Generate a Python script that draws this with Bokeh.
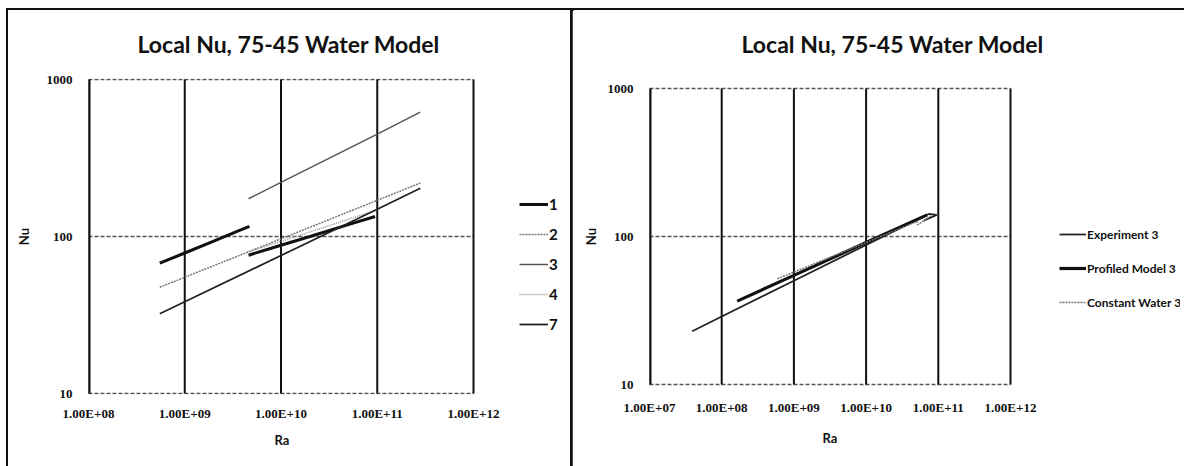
import math
from bokeh.plotting import figure
from bokeh.models import FixedTicker, Legend, LegendItem, Title
from bokeh.layouts import row
from bokeh.embed import file_html
from bokeh.resources import INLINE

nan = float("nan")

TITLE = "Local Nu, 75-45 Water Model"
X_LABEL = "Ra"
Y_LABEL = "Nu"

# ---------- tick labels ----------
left_x_ticks = [1e8, 1e9, 1e10, 1e11, 1e12]
left_x_labels = ["1.00E+08", "1.00E+09", "1.00E+10", "1.00E+11", "1.00E+12"]
right_x_ticks = [1e7, 1e8, 1e9, 1e10, 1e11, 1e12]
right_x_labels = ["1.00E+07", "1.00E+08", "1.00E+09", "1.00E+10", "1.00E+11", "1.00E+12"]
y_ticks = [10, 100, 1000]
y_labels = ["10", "100", "1000"]

# ---------- left panel series ----------
s1_ra = [5.5e8, 1.0e9, 2.0e9, 3.5e9, 4.7e9, nan, 4.6e9, 1.0e10, 2.0e10, 5.0e10, 9.5e10]
s1_nu = [67.6, 78.5, 93.5, 107.7, 116, nan, 76, 88, 100, 119, 134]
s2_ra = [5.5e8, 1.0e9, 1.0e10, 1.0e11, 2.8e11]
s2_nu = [47.5, 55, 96.6, 170, 219]
s3_ra = [4.6e9, 1.0e10, 3.0e10, 1.0e11, 2.8e11]
s3_nu = [174, 221, 310, 449, 620]
s4_ra = [4.6e9, 1.0e10, 3.0e10, 1.0e11]
s4_nu = [80, 93, 116, 148]
s7_ra = [5.5e8, 1.0e9, 1.0e10, 1.0e11, 2.8e11]
s7_nu = [32.2, 38.4, 75.7, 149, 203]
left_names = ["1", "2", "3", "4", "7"]

# ---------- right panel series ----------
exp_ra = [3.9e7, 1.0e8, 1.0e9, 1.0e10, 5.0e10, 7.4e10, 9.5e10, 6.3e10]
exp_nu = [22.9, 28.8, 50.2, 87.7, 129, 142, 140, 128]
prof_ra = [1.64e8, 1.0e9, 1.0e10, 7.0e10]
prof_nu = [36.6, 54.6, 91, 140]
const_ra = [5.9e8, 1.0e9, 1.0e10, 5.0e10, 5.2e10, 8.0e10]
const_nu = [51.8, 57.5, 91, 126, 120, 138]
right_names = ["Experiment 3", "Profiled Model 3", "Constant Water 3"]

TITLE_FONT = "Lato"
TICK_FONT = "Liberation Serif"


def log_range(t0, t1, plot_px, extra_lo_px, extra_hi_px):
    """Range whose ticks t0..t1 span plot_px pixels, with extra pixels of room around."""
    ppd = plot_px / (math.log10(t1) - math.log10(t0))
    return (10 ** (math.log10(t0) - extra_lo_px / ppd), 10 ** (math.log10(t1) + extra_hi_px / ppd))


def base_fig(fw, fh, xr, yr, ml, mr, mt, mb, xticks, xlabels, margin):
    p = figure(frame_width=fw, frame_height=fh, x_axis_type="log", y_axis_type="log",
               x_range=xr, y_range=yr, output_backend="svg", toolbar_location=None,
               min_border_left=ml, min_border_right=mr, min_border_top=mt, min_border_bottom=mb,
               margin=margin)
    p.outline_line_color = None
    p.background_fill_color = "white"
    p.border_fill_color = "white"
    p.grid.visible = False
    p.title.text = TITLE
    p.title.align = "left"
    p.title.vertical_align = "top"
    p.title.text_font = TITLE_FONT
    p.title.text_font_size = "23px"
    p.title.text_font_style = "bold"
    p.title.text_color = "#111111"
    for ax in (p.xaxis[0], p.yaxis[0]):
        ax.axis_line_color = None
        ax.major_tick_line_color = None
        ax.minor_tick_line_color = None
        ax.major_tick_out = 0
        ax.major_tick_in = 0
        ax.minor_tick_out = 0
        ax.major_label_text_font = TICK_FONT
        ax.major_label_text_font_style = "bold"
        ax.major_label_text_font_size = "13px"
        ax.major_label_text_color = "#111111"
        ax.axis_label_text_font = TITLE_FONT
        ax.axis_label_text_font_style = "bold"
        ax.axis_label_text_font_size = "13px"
        ax.axis_label_text_color = "#111111"
    p.xaxis[0].ticker = FixedTicker(ticks=xticks)
    p.xaxis[0].major_label_overrides = dict(zip(xticks, xlabels))
    p.yaxis[0].ticker = FixedTicker(ticks=y_ticks)
    p.yaxis[0].major_label_overrides = dict(zip(y_ticks, y_labels))
    p.yaxis[0].axis_label = Y_LABEL
    # plot-area grid: horizontal dashed lines at the y ticks, vertical solid lines at the x ticks
    p.segment(x0=xticks[0], x1=xticks[-1], y0=y_ticks, y1=y_ticks,
              line_color="#555555", line_width=1.6, line_dash="4 2")
    p.segment(x0=xticks, x1=xticks, y0=y_ticks[0], y1=y_ticks[-1],
              line_color="#111111", line_width=2)
    p.segment(x0=xticks[0], x1=xticks[0], y0=y_ticks[0], y1=y_ticks[-1],
              line_color="#111111", line_width=4)
    return p


def add_x_label(p, offset, standoff):
    p.add_layout(Title(text=X_LABEL, align="left", vertical_align="top", offset=offset,
                       standoff=standoff, text_font=TITLE_FONT, text_font_style="bold",
                       text_font_size="13px", text_color="#111111"), "below")


def make_legend(p, renderers, names, loc, glyph_w, spacing, font_size):
    items = [LegendItem(label=n, renderers=[r]) for r, n in zip(renderers, names)]
    leg = Legend(items=items, location=loc, glyph_width=glyph_w, glyph_height=20,
                 label_height=20, spacing=spacing, padding=0, margin=0, label_standoff=1,
                 border_line_color=None, background_fill_alpha=0,
                 label_text_font=TITLE_FONT, label_text_font_style="bold",
                 label_text_font_size=font_size, label_text_color="#111111")
    p.add_layout(leg)
    return leg


# ---------------- left figure (host at x=8, y=10) ----------------
p1 = base_fig(478, 316, log_range(1e8, 1e12, 385, 0, 93), log_range(10, 1000, 314, 1, 1),
              80, 6, 68, 72, left_x_ticks, left_x_labels, (10, 0, 0, 8))
p1.styles = {"outline": "2.5px solid #111111"}
p1.title.offset = 49
p1.title.standoff = 38
p1.xaxis[0].major_label_standoff = 11
p1.yaxis[0].major_label_standoff = 16
p1.yaxis[0].axis_label_standoff = 12
add_x_label(p1, 186, 17)

l_series = [(s1_ra, s1_nu, "#111111", 3.0, "solid"),
            (s2_ra, s2_nu, "#777777", 1.5, "2 1"),
            (s3_ra, s3_nu, "#555555", 1.5, "solid"),
            (s4_ra, s4_nu, "#999999", 1.5, "1 1"),
            (s7_ra, s7_nu, "#222222", 1.8, "solid")]
rs1 = [p1.line(xs, ys, line_color=c, line_width=w, line_dash=d) for xs, ys, c, w, d in l_series]
make_legend(p1, rs1, left_names, (431, 60), 29, 10, "15px")

# ---------------- right figure (host at x=572, y=10) ----------------
p2 = base_fig(531, 316, log_range(1e7, 1e12, 361, 0, 170), log_range(10, 1000, 296, 10, 10),
              77, 4, 68, 72, right_x_ticks, right_x_labels, (10, 0, 0, 0))
p2.styles = {"outline": "2px solid #111111"}
p2.title.offset = 92
p2.title.standoff = 37
p2.xaxis[0].major_label_standoff = 5
p2.yaxis[0].major_label_standoff = 16
p2.yaxis[0].axis_label_standoff = 6
add_x_label(p2, 173, 25)

r_series = [(exp_ra, exp_nu, "#222222", 1.8, "solid"),
            (prof_ra, prof_nu, "#111111", 3.2, "solid"),
            (const_ra, const_nu, "#777777", 1.5, "2 1")]
rs2 = [p2.line(xs, ys, line_color=c, line_width=w, line_dash=d) for xs, ys, c, w, d in r_series]
make_legend(p2, rs2, right_names, (410, 82), 27, 14, "12px")

layout = row(p1, p2, spacing=0)
open("out.html", "w").write(file_html(layout, INLINE))
